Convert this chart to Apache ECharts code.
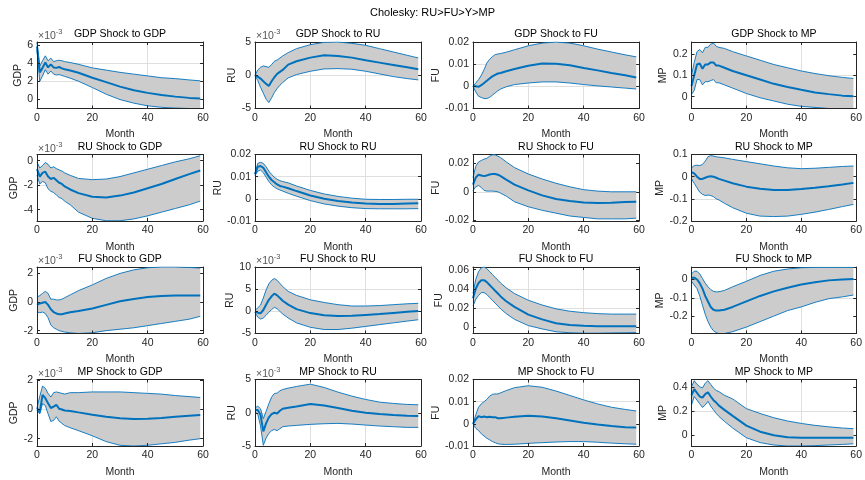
<!DOCTYPE html>
<html><head><meta charset="utf-8">
<script src="https://cdn.jsdelivr.net/npm/echarts@6/dist/echarts.min.js"></script>
<style>html,body{margin:0;padding:0;background:#fff}#c{width:865px;height:480px}</style>
</head><body><div id="c"></div>
<script>
// ---------- data ----------
const mainTitle = 'Cholesky: RU>FU>Y>MP';
const vars = ['GDP', 'RU', 'FU', 'MP'];
const months = [0,1,2,3,4,5,6,7,8,9,10,12,15,20,25,30,35,40,45,50,55,59];
const xTicks = [0, 20, 40, 60];

// row 1: GDP shock
const p11Hi  = [6.3,3.7,4.3,4.85,4.3,4.6,4.2,4.3,4.35,4.3,4.2,4.1,3.9,3.5,3.25,3.0,2.8,2.6,2.4,2.3,2.15,2.05];
const p11Mid = [5.9,3.0,3.5,4.1,3.55,3.9,3.55,3.5,3.6,3.45,3.35,3.2,2.95,2.4,1.9,1.4,1.0,0.7,0.45,0.28,0.14,0.07];
const p11Lo  = [5.5,2.0,2.6,3.3,2.8,3.15,2.8,2.7,2.75,2.65,2.55,2.35,2.0,1.3,0.55,-0.05,-0.45,-0.75,-0.92,-1.0,-1.05,-1.05];

const p12Hi  = [0,0.8,1.2,1.4,1.3,1.2,1.6,2.1,2.3,2.6,2.9,3.4,4.0,4.6,4.95,5.0,4.8,4.5,4.0,3.5,3.0,2.6];
const p12Mid = [0,-0.2,-0.5,-0.9,-1.3,-1.6,-0.9,-0.3,0.2,0.5,0.8,1.6,2.1,2.65,3.0,2.9,2.65,2.25,1.9,1.55,1.2,0.9];
const p12Lo  = [0,-0.8,-1.8,-2.7,-3.6,-4.1,-3.4,-2.6,-2.0,-1.5,-1.1,-0.4,0.1,0.6,0.95,1.0,0.9,0.6,0.2,-0.2,-0.5,-0.7];

const p13Hi  = [0,0.0015,0.003,0.005,0.0075,0.0105,0.0122,0.0134,0.0143,0.0146,0.0148,0.0154,0.0165,0.0183,0.0195,0.02,0.0195,0.0183,0.0168,0.0155,0.0142,0.0133];
const p13Mid = [0,0,-0.0002,0.0005,0.0015,0.0025,0.0035,0.0045,0.0052,0.0058,0.006,0.0068,0.0078,0.0093,0.0103,0.0102,0.0095,0.0083,0.0072,0.006,0.005,0.004];
const p13Lo  = [0,-0.0025,-0.0045,-0.005,-0.0055,-0.0055,-0.005,-0.004,-0.003,-0.002,-0.0012,-0.0002,0.0008,0.0015,0.002,0.002,0.0015,0.0008,0.0002,-0.0003,-0.0008,-0.0012];

const p14Hi  = [0.1,0.16,0.21,0.22,0.205,0.23,0.23,0.245,0.25,0.235,0.23,0.225,0.21,0.19,0.17,0.15,0.135,0.12,0.108,0.098,0.09,0.085];
const p14Mid = [0.05,0.1,0.15,0.155,0.13,0.15,0.15,0.16,0.16,0.145,0.145,0.135,0.12,0.1,0.08,0.06,0.045,0.032,0.02,0.012,0.005,0.002];
const p14Lo  = [0.01,0.03,0.08,0.08,0.055,0.07,0.07,0.075,0.08,0.065,0.065,0.055,0.04,0.015,-0.005,-0.02,-0.035,-0.045,-0.05,-0.055,-0.055,-0.055];

// row 2: RU shock
const p21Hi  = [-0.1,-0.6,-0.4,-0.15,-0.3,-0.6,-0.5,-0.65,-0.75,-0.85,-1.0,-1.2,-1.45,-1.55,-1.5,-1.3,-1.0,-0.7,-0.4,-0.1,0.15,0.4];
const p21Mid = [-0.7,-1.3,-1.0,-0.9,-1.3,-1.5,-1.4,-1.6,-1.8,-1.9,-2.1,-2.35,-2.65,-2.95,-3.0,-2.85,-2.6,-2.25,-1.9,-1.5,-1.1,-0.8];
const p21Lo  = [-1.2,-1.9,-1.7,-1.8,-2.3,-2.5,-2.6,-2.8,-3.0,-3.1,-3.3,-3.6,-4.2,-4.7,-4.9,-4.9,-4.75,-4.5,-4.2,-3.9,-3.6,-3.3];

const p22Hi  = [0.0115,0.016,0.0165,0.016,0.0145,0.0125,0.011,0.0097,0.0088,0.0082,0.0078,0.0072,0.0058,0.0038,0.0022,0.0011,0.0003,-0.0002,-0.0003,-0.0003,-0.0002,-0.0002];
const p22Mid = [0.011,0.0145,0.0148,0.014,0.012,0.010,0.0085,0.0075,0.0065,0.0058,0.0055,0.0048,0.0035,0.0015,0.0,-0.001,-0.0017,-0.0021,-0.0023,-0.0023,-0.0021,-0.002];
const p22Lo  = [0.0105,0.0125,0.013,0.0118,0.0098,0.0078,0.0063,0.0053,0.0045,0.004,0.0035,0.0025,0.0012,-0.0008,-0.0023,-0.0033,-0.004,-0.0044,-0.0045,-0.0045,-0.0045,-0.0044];

const p23Hi  = [0.01,0.018,0.021,0.022,0.023,0.0235,0.025,0.026,0.026,0.025,0.024,0.021,0.017,0.0125,0.009,0.006,0.0035,0.0015,0.0005,0.0,0.0,0.0];
const p23Mid = [0.005,0.01,0.012,0.0115,0.011,0.0115,0.0122,0.0125,0.0125,0.012,0.011,0.0085,0.005,0.001,-0.0025,-0.005,-0.0065,-0.0075,-0.0078,-0.0077,-0.0072,-0.007];
const p23Lo  = [0.001,0.0035,0.0045,0.003,0.001,0.0005,0.0005,0.0005,0.0003,0.0,-0.001,-0.003,-0.007,-0.0105,-0.013,-0.015,-0.017,-0.018,-0.019,-0.019,-0.019,-0.0185];

const p24Hi  = [0.04,0.05,0.052,0.05,0.055,0.07,0.09,0.095,0.093,0.09,0.088,0.085,0.078,0.068,0.058,0.048,0.04,0.036,0.038,0.042,0.046,0.048];
const p24Mid = [0.02,0.015,0.0,-0.01,-0.01,-0.005,0.0,0.002,0.0,-0.005,-0.01,-0.018,-0.03,-0.045,-0.055,-0.06,-0.06,-0.056,-0.05,-0.043,-0.035,-0.028];
const p24Lo  = [-0.01,-0.03,-0.05,-0.07,-0.08,-0.085,-0.083,-0.085,-0.09,-0.1,-0.105,-0.12,-0.14,-0.165,-0.178,-0.18,-0.178,-0.17,-0.16,-0.148,-0.135,-0.125];

// row 3: FU shock
const p31Hi  = [0.35,0.45,0.6,0.75,0.6,0.2,0.2,0.15,0.15,0.2,0.3,0.5,0.8,1.2,1.65,2.0,2.25,2.4,2.45,2.45,2.42,2.38];
const p31Mid = [-0.2,-0.1,-0.05,0.0,-0.2,-0.5,-0.7,-0.8,-0.85,-0.85,-0.8,-0.72,-0.62,-0.45,-0.2,0.05,0.22,0.35,0.42,0.45,0.45,0.45];
const p31Lo  = [-0.7,-0.75,-0.7,-0.8,-1.1,-1.6,-1.8,-1.9,-2.0,-2.05,-2.1,-2.15,-2.2,-2.15,-2.0,-1.9,-1.8,-1.65,-1.5,-1.35,-1.2,-1.0];

const p32Hi  = [0.2,0.8,1.4,3.0,4.8,6.2,7.0,7.4,7.0,6.3,5.6,4.5,3.6,2.6,2.0,1.5,1.2,1.2,1.3,1.5,1.7,1.8];
const p32Mid = [0,-0.3,-0.45,0.3,1.5,2.6,3.4,4.0,3.6,3.0,2.4,1.5,0.5,-0.4,-0.9,-1.05,-1.0,-0.8,-0.6,-0.35,-0.1,0.1];
const p32Lo  = [-0.2,-1.3,-1.75,-1.5,-0.9,-0.2,0.4,0.9,0.6,0.0,-0.6,-1.5,-2.6,-3.6,-4.1,-4.1,-3.8,-3.4,-3.0,-2.6,-2.2,-1.9];

const p33Hi  = [0.035,0.05,0.058,0.062,0.063,0.061,0.058,0.055,0.052,0.049,0.046,0.041,0.035,0.028,0.023,0.019,0.0165,0.015,0.014,0.0135,0.0135,0.0135];
const p33Mid = [0.03,0.04,0.046,0.049,0.049,0.047,0.044,0.041,0.038,0.035,0.032,0.027,0.021,0.013,0.008,0.004,0.0022,0.0012,0.0008,0.0007,0.0007,0.0008];
const p33Lo  = [0.022,0.029,0.033,0.036,0.036,0.034,0.031,0.028,0.025,0.022,0.019,0.014,0.008,0.0015,-0.002,-0.005,-0.006,-0.0065,-0.0065,-0.0062,-0.006,-0.0058];

const p34Hi  = [0.03,0.045,0.045,0.03,0.005,-0.02,-0.04,-0.055,-0.065,-0.068,-0.067,-0.06,-0.04,-0.01,0.022,0.045,0.057,0.064,0.066,0.066,0.066,0.066];
const p34Mid = [0.01,0.01,0.0,-0.02,-0.05,-0.09,-0.12,-0.15,-0.165,-0.17,-0.17,-0.165,-0.15,-0.12,-0.09,-0.065,-0.045,-0.027,-0.015,-0.005,0.0,0.003];
const p34Lo  = [-0.01,-0.03,-0.05,-0.09,-0.14,-0.19,-0.23,-0.26,-0.28,-0.29,-0.295,-0.295,-0.285,-0.26,-0.23,-0.2,-0.17,-0.15,-0.125,-0.105,-0.095,-0.085];

// row 4: MP shock
const p41Hi  = [0.1,0.9,1.6,1.45,1.1,0.85,1.15,1.2,1.15,1.1,1.05,1.15,1.15,1.2,1.2,1.2,1.15,1.1,1.05,0.95,0.88,0.82];
const p41Mid = [0.1,-0.2,1.0,0.77,0.43,0.1,0.2,0.32,0.05,0.0,-0.07,-0.1,-0.2,-0.36,-0.5,-0.6,-0.65,-0.63,-0.58,-0.5,-0.43,-0.38];
const p41Lo  = [-0.05,-0.3,0.4,0.27,-0.3,-0.82,-0.75,-0.5,-0.8,-0.95,-1.1,-1.25,-1.45,-1.8,-2.2,-2.45,-2.5,-2.45,-2.35,-2.25,-2.1,-2.0];

const p42Hi  = [0.7,1.0,0.6,-0.9,0.2,1.35,2.35,2.9,2.95,3.3,3.5,3.7,3.95,4.3,3.8,3.1,2.5,2.0,1.6,1.4,1.25,1.2];
const p42Mid = [0.4,0.4,-0.3,-2.8,-1.6,-0.7,-0.2,0.0,-0.1,0.3,0.6,0.75,0.95,1.3,1.1,0.7,0.3,0.0,-0.2,-0.35,-0.45,-0.5];
const p42Lo  = [0.1,-0.2,-2.0,-4.9,-3.8,-3.1,-2.7,-2.5,-2.7,-2.4,-2.1,-2.0,-1.9,-1.75,-1.65,-1.6,-1.7,-1.85,-2.0,-2.1,-2.2,-2.2];

const p43Hi  = [0.0,0.004,0.0075,0.009,0.01,0.011,0.0125,0.0133,0.0135,0.0135,0.014,0.015,0.0163,0.0172,0.0165,0.0148,0.0128,0.0108,0.009,0.0075,0.0065,0.0058];
const p43Mid = [0.0,0.002,0.0035,0.003,0.0033,0.003,0.0032,0.003,0.003,0.0025,0.0025,0.0028,0.0032,0.0037,0.0033,0.0025,0.0015,0.0005,-0.0003,-0.001,-0.0015,-0.0017];
const p43Lo  = [0.0,-0.002,-0.003,-0.0045,-0.0055,-0.0065,-0.0072,-0.008,-0.0085,-0.009,-0.0092,-0.0093,-0.0092,-0.0088,-0.0085,-0.0082,-0.008,-0.008,-0.0083,-0.0087,-0.009,-0.0092];

const p44Hi  = [0.40,0.45,0.42,0.40,0.39,0.43,0.45,0.42,0.39,0.37,0.36,0.33,0.30,0.22,0.18,0.145,0.118,0.098,0.082,0.07,0.06,0.055];
const p44Mid = [0.33,0.38,0.35,0.32,0.31,0.34,0.355,0.32,0.29,0.27,0.245,0.21,0.16,0.08,0.03,0.0,-0.015,-0.02,-0.02,-0.02,-0.02,-0.02];
const p44Lo  = [0.25,0.32,0.29,0.26,0.23,0.25,0.28,0.24,0.21,0.18,0.155,0.115,0.06,-0.02,-0.06,-0.08,-0.088,-0.088,-0.085,-0.08,-0.075,-0.07];

// y-axis ranges and tick labels per panel (row = shock, col = response)
const yMin = [[-1.05,-5,-0.01,-0.055],[-4.92,-0.01,-0.0205,-0.2],[-2.2,-5,-0.0068,-0.295],[-2.5,-5,-0.01,-0.088]];
const yMax = [[6.4,5,0.02,0.255],[0.5,0.02,0.0262,0.1],[2.45,10,0.0628,0.068],[2.05,5,0.02,0.46]];
const yTicks = [
  [[0,2,4,6],[-5,0,5],[-0.01,0,0.01,0.02],[0,0.1,0.2]],
  [[-4,-2,0],[-0.01,0,0.01,0.02],[-0.02,0,0.02],[-0.2,-0.1,0,0.1]],
  [[-2,0,2],[-5,0,5,10],[0,0.02,0.04,0.06],[-0.2,-0.1,0]],
  [[-2,0,2],[-5,0,5],[-0.01,0,0.01,0.02],[0,0.2,0.4]]
];
// panels whose values are shown in units of 10^-3
const scaled = [[true,true,false,false],[true,false,false,false],[true,true,false,false],[true,true,false,false]];

// ---------- layout / style ----------
const FONT = '"Liberation Sans", Arial, Helvetica, sans-serif';
const AX = '#262626', GRID = '#dfdfdf', BLUE = '#0072BD', FILL = '#cccccc';
const colLeft = [37, 255, 473, 691.5];
const rowTop = [42, 154.5, 267, 379.5];
const PW = 166, PH = 66.5;
const yNameGap = [[8,9.5,27.5,15.5],[11,24,25.5,15.5],[11,14,24,15.5],[11,9.5,25,15.5]];

const panels = [
  [[p11Hi,p11Mid,p11Lo],[p12Hi,p12Mid,p12Lo],[p13Hi,p13Mid,p13Lo],[p14Hi,p14Mid,p14Lo]],
  [[p21Hi,p21Mid,p21Lo],[p22Hi,p22Mid,p22Lo],[p23Hi,p23Mid,p23Lo],[p24Hi,p24Mid,p24Lo]],
  [[p31Hi,p31Mid,p31Lo],[p32Hi,p32Mid,p32Lo],[p33Hi,p33Mid,p33Lo],[p34Hi,p34Mid,p34Lo]],
  [[p41Hi,p41Mid,p41Lo],[p42Hi,p42Mid,p42Lo],[p43Hi,p43Mid,p43Lo],[p44Hi,p44Mid,p44Lo]]
];

const grids = [], xAxes = [], yAxes = [], series = [];
const titles = [{
  text: mainTitle, left: 'center', top: 7.5, padding: 0,
  textStyle: { fontSize: 11, fontWeight: 'normal', color: '#000', fontFamily: FONT }
}];

function pairs(arr) { return months.map((m, k) => [m, arr[k]]); }

for (let r = 0; r < 4; r++) {
  for (let c = 0; c < 4; c++) {
    const i = r * 4 + c;
    const [hi, mid, lo] = panels[r][c];
    const ticks = yTicks[r][c];
    grids.push({ left: colLeft[c], top: rowTop[r], width: PW, height: PH });
    const txt = { fontSize: 10.5, color: AX, fontFamily: FONT, fontWeight: 'normal' };
    xAxes.push({
      gridIndex: i, type: 'value', position: 'bottom', min: 0, max: 60, z: 5,
      axisLine: { show: true, onZero: false, lineStyle: { color: AX, width: 1 } },
      axisTick: { show: true, inside: true, length: 3, customValues: xTicks, lineStyle: { color: AX } },
      axisLabel: { show: true, margin: 4, customValues: xTicks, ...txt },
      splitLine: { show: false },
      name: 'Month', nameLocation: 'middle', nameGap: 20.5, nameTextStyle: txt
    });
    xAxes.push({
      gridIndex: i, type: 'value', position: 'top', min: 0, max: 60, z: 0,
      axisLine: { show: true, onZero: false, lineStyle: { color: AX, width: 1 } },
      axisTick: { show: true, inside: true, length: 3, customValues: xTicks, lineStyle: { color: AX } },
      axisLabel: { show: false },
      splitLine: { show: true, showMinLine: false, showMaxLine: false, lineStyle: { color: GRID, width: 1 } },
      name: vars[r] + ' Shock to ' + vars[c], nameLocation: 'middle', nameGap: 2,
      nameTextStyle: { fontSize: 10.5, color: '#000', fontFamily: FONT }
    });
    yAxes.push({
      gridIndex: i, type: 'value', position: 'left', min: yMin[r][c], max: yMax[r][c], z: 5,
      axisLine: { show: true, onZero: false, lineStyle: { color: AX, width: 1 } },
      axisTick: { show: true, inside: true, length: 3, customValues: ticks, lineStyle: { color: AX } },
      axisLabel: { show: true, margin: 4, customValues: ticks, ...txt },
      splitLine: { show: false },
      name: vars[c], nameLocation: 'middle', nameRotate: 90, nameGap: yNameGap[r][c], nameTextStyle: txt
    });
    yAxes.push({
      gridIndex: i, type: 'value', position: 'right', min: yMin[r][c], max: yMax[r][c], z: 0,
      axisLine: { show: true, onZero: false, lineStyle: { color: AX, width: 1 } },
      axisTick: { show: true, inside: true, length: 3, customValues: ticks, lineStyle: { color: AX } },
      axisLabel: { show: false },
      splitLine: { show: true, showMinLine: false, showMaxLine: false, lineStyle: { color: GRID, width: 1 } }
    });
    if (scaled[r][c]) {
      titles.push({
        text: '{a|×10}{b|-3}', left: colLeft[c] + 1, top: rowTop[r] - 14, padding: 0,
        textStyle: { fontWeight: 'normal', rich: {
          a: { fontSize: 10.5, fontWeight: 'normal', color: '#555', fontFamily: FONT, lineHeight: 14, verticalAlign: 'bottom' },
          b: { fontSize: 7.5, fontWeight: 'normal', color: '#555', fontFamily: FONT, lineHeight: 9, verticalAlign: 'top' }
        } }
      });
    }
    const xi = 2 * i, yi = 2 * i;
    series.push({
      type: 'custom', xAxisIndex: xi, yAxisIndex: yi, z: 1, clip: true, silent: true,
      data: months.map((m, k) => [m, lo[k], hi[k]]),
      encode: { x: 0, y: [1, 2] },
      renderItem: (function (hiA, loA) {
        return function (params, api) {
          if (params.dataIndex !== 0) return null;
          const pts = [];
          for (let k = 0; k < months.length; k++) pts.push(api.coord([months[k], hiA[k]]));
          for (let k = months.length - 1; k >= 0; k--) pts.push(api.coord([months[k], loA[k]]));
          return { type: 'polygon', shape: { points: pts }, style: { fill: FILL, stroke: null } };
        };
      })(hi, lo)
    });
    [[hi, 0.9], [lo, 0.9], [mid, 2]].forEach(([arr, w], j) => {
      series.push({
        type: 'line', xAxisIndex: xi, yAxisIndex: yi, z: 2 + j, clip: true, silent: true,
        data: pairs(arr), symbol: 'none', showSymbol: false,
        lineStyle: { color: BLUE, width: w }
      });
    });
  }
}

const chart = echarts.init(document.getElementById('c'), null, { renderer: 'canvas' });
chart.setOption({
  animation: false, backgroundColor: '#fff',
  title: titles, grid: grids, xAxis: xAxes, yAxis: yAxes, series: series
});
</script>
</body></html>
